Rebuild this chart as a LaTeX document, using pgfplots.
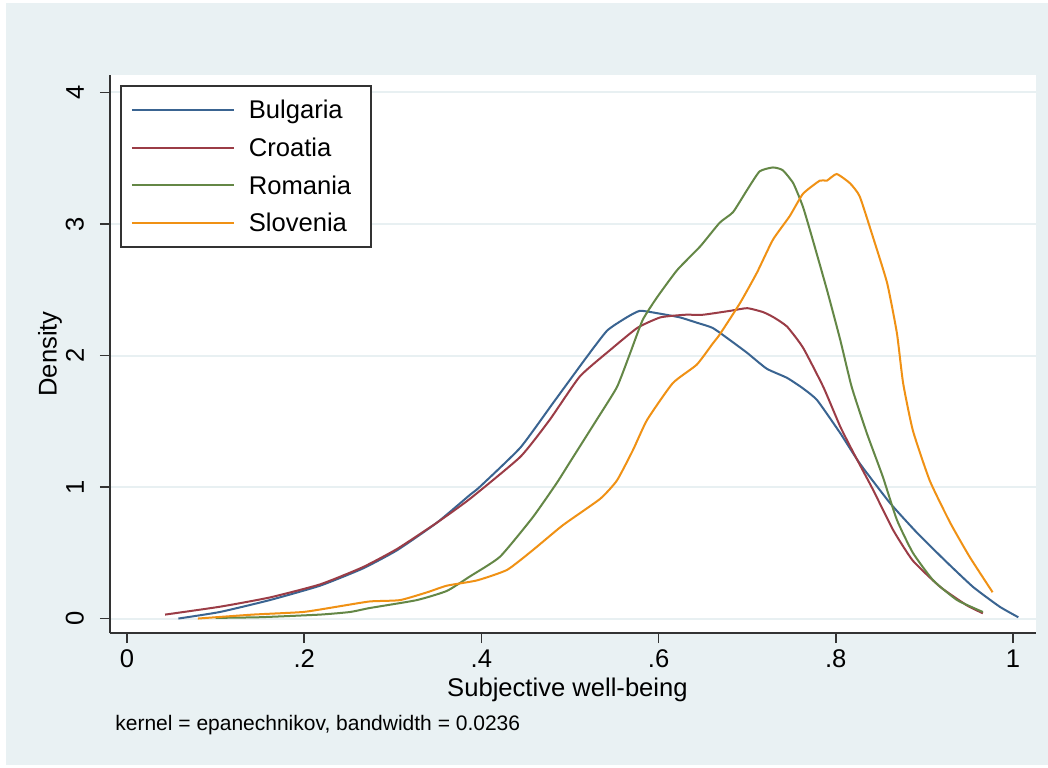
\documentclass[border=0pt]{standalone}
\usepackage{fontspec}
\setmainfont{Liberation Sans}
\usepackage{pgfplots}
\pgfplotsset{compat=1.18}

\definecolor{outerbg}{RGB}{233,241,243}
\definecolor{gridc}{RGB}{232,240,242}
\definecolor{cBul}{RGB}{58,100,145}
\definecolor{cCro}{RGB}{155,60,70}
\definecolor{cRom}{RGB}{100,135,70}
\definecolor{cSlo}{RGB}{240,145,20}

\newcommand{\mainfs}{\fontsize{12.8}{15}\selectfont}

\begin{document}
\begin{tikzpicture}
\useasboundingbox (-55pt,-67pt) rectangle (469pt,316.5pt);
\fill[white] (-55pt,-67pt) rectangle (469pt,316.5pt);
\fill[outerbg] (-52pt,-66pt) rectangle (469pt,315pt);

\begin{axis}[
  at={(0pt,0pt)}, anchor=south west,
  scale only axis, width=463pt, height=279pt,
  xmin=-0.0192, xmax=1.026, ymin=-0.110, ymax=4.133,
  axis x line*=bottom, axis y line*=left,
  axis line style={line width=1pt, color=black!80},
  axis background/.style={fill=white},
  tick align=outside, major tick length=5pt,
  tick style={color=black!80, line width=0.8pt},
  xtick={0,0.2,0.4,0.6,0.8,1}, xticklabels={0,.2,.4,.6,.8,1},
  ytick={0,1,2,3,4}, yticklabels={0,1,2,3,4},
  yticklabel style={rotate=90, anchor=south},
  yticklabel shift=4.5pt,
  tick label style={font=\mainfs},
  ymajorgrids, grid style={color=gridc, line width=1pt},
  xlabel={Subjective well-being}, ylabel={Density},
  every axis x label/.style={at={(axis description cs:0.494,-0.102)}, anchor=center, font=\mainfs},
  every axis y label/.style={at={(axis description cs:-0.0648,0.5)}, anchor=center, rotate=90, font=\mainfs},
  legend cell align=left,
  legend image code/.code={\draw[#1, line width=1pt] (0pt,0pt) -- (51pt,0pt);},
  legend style={at={(axis description cs:0.0108,0.982)}, anchor=north west,
    draw=black!80, line width=0.8pt, fill=white,
    inner xsep=5pt, inner ysep=6.5pt, row sep=7.85pt, column sep=7pt,
    font=\mainfs, nodes={inner sep=0pt, text height=10pt, text depth=1pt}},
  every axis plot/.append style={line width=1pt, smooth, tension=0.3},
]
% Bulgaria
\addplot[color=cBul] coordinates {
(0.058,0.00) (0.105,0.05) (0.161,0.14) (0.218,0.25) (0.266,0.38)
(0.305,0.52) (0.350,0.73) (0.387,0.94) (0.398,1.00) (0.444,1.30)
(0.481,1.64) (0.519,1.99) (0.542,2.19) (0.564,2.29) (0.579,2.34)
(0.600,2.32) (0.624,2.29) (0.643,2.25) (0.661,2.21) (0.680,2.12)
(0.700,2.02) (0.722,1.90) (0.745,1.83) (0.763,1.75) (0.779,1.66)
(0.805,1.41) (0.827,1.18) (0.861,0.88) (0.892,0.65) (0.925,0.43)
(0.955,0.24) (0.985,0.09) (1.006,0.01)};
\addlegendentry{\makebox[56pt][l]{Bulgaria}}
% Croatia
\addplot[color=cCro] coordinates {
(0.043,0.03) (0.105,0.09) (0.161,0.16) (0.218,0.26) (0.266,0.39)
(0.305,0.53) (0.350,0.73) (0.387,0.91) (0.444,1.23) (0.477,1.51)
(0.511,1.84) (0.545,2.04) (0.576,2.21) (0.602,2.29) (0.630,2.31)
(0.650,2.31) (0.681,2.34) (0.700,2.36) (0.718,2.33) (0.730,2.29)
(0.745,2.22) (0.763,2.06) (0.786,1.76) (0.805,1.46) (0.820,1.26)
(0.842,0.98) (0.865,0.67) (0.887,0.44) (0.918,0.24) (0.948,0.10)
(0.966,0.04)};
\addlegendentry{Croatia}
% Romania
\addplot[color=cRom] coordinates {
(0.100,0.005) (0.150,0.01) (0.218,0.03) (0.252,0.05) (0.274,0.08)
(0.327,0.14) (0.361,0.21) (0.387,0.32) (0.421,0.47) (0.458,0.77)
(0.485,1.03) (0.500,1.19) (0.530,1.51) (0.553,1.76) (0.568,2.02)
(0.582,2.27) (0.598,2.44) (0.621,2.65) (0.647,2.83) (0.669,3.01)
(0.684,3.09) (0.700,3.26) (0.714,3.40) (0.729,3.43) (0.740,3.41)
(0.752,3.31) (0.763,3.13) (0.774,2.88) (0.790,2.50) (0.805,2.12)
(0.818,1.76) (0.835,1.41) (0.853,1.08) (0.869,0.75) (0.887,0.50)
(0.910,0.29) (0.937,0.14) (0.966,0.05)};
\addlegendentry{Romania}
% Slovenia
\addplot[color=cSlo] coordinates {
(0.080,0.00) (0.142,0.03) (0.199,0.05) (0.237,0.09) (0.274,0.13)
(0.308,0.14) (0.339,0.20) (0.361,0.25) (0.395,0.29) (0.429,0.37)
(0.458,0.52) (0.492,0.71) (0.534,0.91) (0.553,1.05) (0.571,1.28)
(0.587,1.51) (0.616,1.79) (0.643,1.93) (0.661,2.09) (0.669,2.16)
(0.692,2.40) (0.711,2.63) (0.729,2.88) (0.748,3.06) (0.763,3.23)
(0.782,3.33) (0.790,3.33) (0.801,3.38) (0.816,3.31) (0.827,3.21)
(0.842,2.90) (0.858,2.55) (0.869,2.17) (0.876,1.79) (0.887,1.43)
(0.906,1.05) (0.929,0.73) (0.951,0.47) (0.977,0.20)};
\addlegendentry{Slovenia}
\end{axis}

\node[anchor=west, font=\fontsize{10.5}{12}\selectfont, inner sep=0pt] at (2.5pt,-46pt)
  {kernel = epanechnikov, bandwidth = 0.0236};
\end{tikzpicture}
\end{document}
